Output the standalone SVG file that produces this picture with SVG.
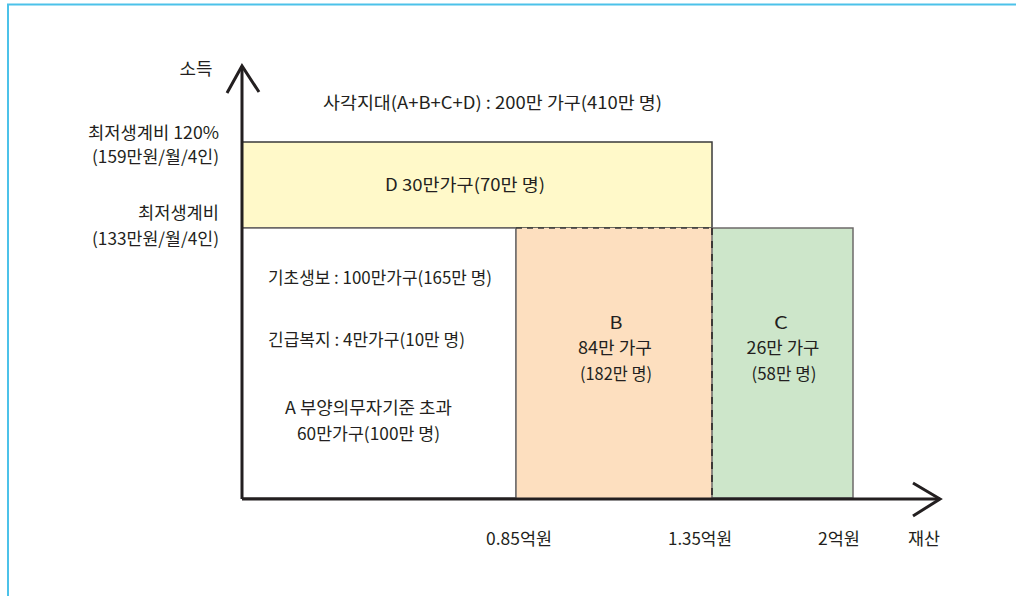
<svg xmlns="http://www.w3.org/2000/svg" width="1016" height="596" viewBox="0 0 1016 596">
<style>
  text { font-family: "Noto Sans CJK KR", "Noto Sans", sans-serif; font-size: 17px; fill: #231f20; }
  .m { text-anchor: middle; }
  .e { text-anchor: end; }
  .axis { stroke: #231f20; stroke-width: 3; fill: none; }
  .box { stroke: #6d6a6a; stroke-width: 1.5; }
</style>
<rect width="1016" height="596" fill="#ffffff"/>
<g id="frame">
  <path d="M8,596 V4.5 H1016" fill="none" stroke="#4cc2e9" stroke-width="2"/>
</g>
<g id="D">
  <rect x="242" y="142" width="470" height="86" fill="#fff9c9" stroke="#3a3a3a" stroke-width="1.5"/>
  <text class="m" x="465" y="191" textLength="160" lengthAdjust="spacingAndGlyphs">D 30만가구(70만 명)</text>
</g>
<g id="A">
  <rect x="242" y="228" width="274" height="270" fill="#ffffff" class="box"/>
  <text x="268" y="284" textLength="224" lengthAdjust="spacingAndGlyphs">기초생보 : 100만가구(165만 명)</text>
  <text x="268" y="346" textLength="197" lengthAdjust="spacingAndGlyphs">긴급복지 : 4만가구(10만 명)</text>
  <text class="m" x="368.5" y="414" textLength="167" lengthAdjust="spacingAndGlyphs">A 부양의무자기준 초과</text>
  <text class="m" x="368.5" y="440" textLength="143" lengthAdjust="spacingAndGlyphs">60만가구(100만 명)</text>
</g>
<g id="B">
  <rect x="516" y="228" width="196" height="270" fill="#fddfbf"/>
  <path d="M516,498 V228" class="box" fill="none"/>
  <path d="M516,228 H712" stroke="#3a3a3a" stroke-width="1.5" stroke-dasharray="6,5" fill="none"/>
  <text class="m" x="616" y="329" textLength="13" lengthAdjust="spacingAndGlyphs">B</text>
  <text class="m" x="615" y="354" textLength="74" lengthAdjust="spacingAndGlyphs">84만 가구</text>
  <text class="m" x="616" y="380" textLength="72" lengthAdjust="spacingAndGlyphs">(182만 명)</text>
</g>
<g id="C">
  <rect x="712" y="228" width="141" height="270" fill="#cde6ca" class="box"/>
  <text class="m" x="781" y="329" textLength="14" lengthAdjust="spacingAndGlyphs">C</text>
  <text class="m" x="783" y="354" textLength="73" lengthAdjust="spacingAndGlyphs">26만 가구</text>
  <text class="m" x="784" y="380" textLength="65" lengthAdjust="spacingAndGlyphs">(58만 명)</text>
</g>
<g id="connectors">
  <path d="M712,228 V498" stroke="#231f20" stroke-width="1.5" stroke-dasharray="7,6" fill="none"/>
  <path d="M242,499 V66" class="axis"/>
  <path d="M227,93 L242,66 L259,92" class="axis"/>
  <path d="M242,499 H940" class="axis"/>
  <path d="M913,483 L940,499 L913,516" class="axis"/>
</g>
<g id="labels">
  <text class="m" x="196" y="75" textLength="33" lengthAdjust="spacingAndGlyphs">소득</text>
  <text x="323" y="109" textLength="339" lengthAdjust="spacingAndGlyphs">사각지대(A+B+C+D) : 200만 가구(410만 명)</text>
  <text class="e" x="219" y="139" textLength="131" lengthAdjust="spacingAndGlyphs">최저생계비 120%</text>
  <text class="e" x="219" y="163" textLength="127" lengthAdjust="spacingAndGlyphs">(159만원/월/4인)</text>
  <text class="e" x="219" y="219" textLength="81" lengthAdjust="spacingAndGlyphs">최저생계비</text>
  <text class="e" x="219" y="245" textLength="127" lengthAdjust="spacingAndGlyphs">(133만원/월/4인)</text>
  <text class="m" x="519" y="545" textLength="66" lengthAdjust="spacingAndGlyphs">0.85억원</text>
  <text class="m" x="700" y="545" textLength="64" lengthAdjust="spacingAndGlyphs">1.35억원</text>
  <text class="m" x="839" y="545" textLength="42" lengthAdjust="spacingAndGlyphs">2억원</text>
  <text class="m" x="924" y="545" textLength="32" lengthAdjust="spacingAndGlyphs">재산</text>
</g>
</svg>
